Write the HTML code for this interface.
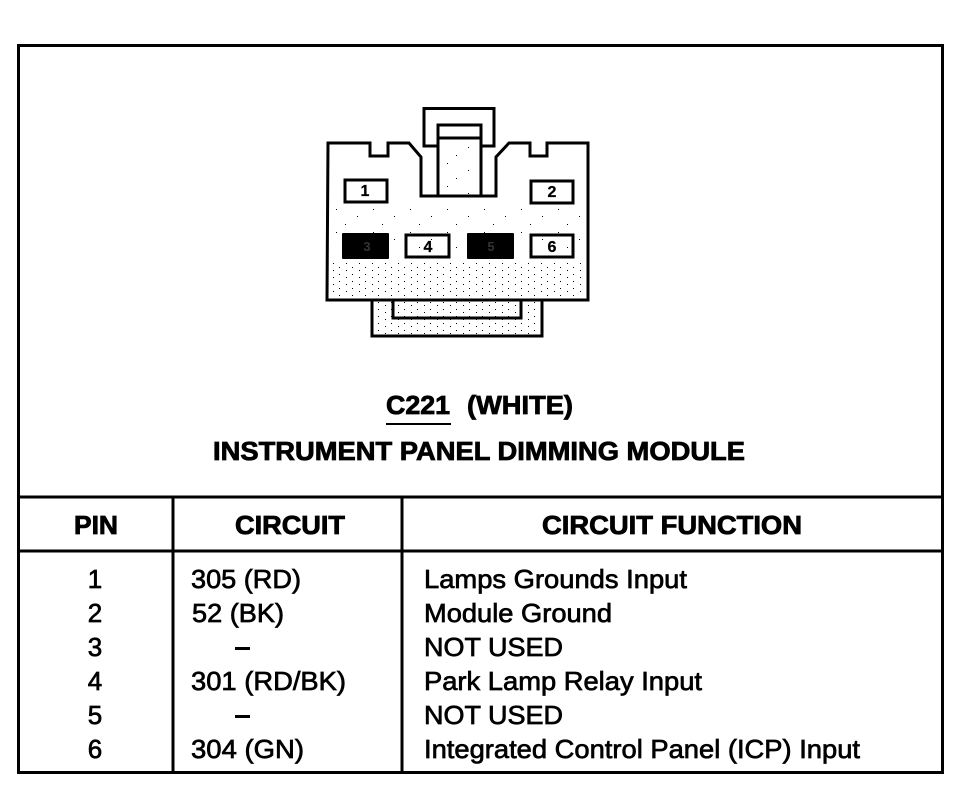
<!DOCTYPE html>
<html>
<head>
<meta charset="utf-8">
<style>
html,body{margin:0;padding:0;background:#fff;}
svg{display:block;}
text{font-family:"Liberation Sans",sans-serif;fill:#000;}
.b{font-weight:bold;font-size:26px;stroke:#000;stroke-width:.8px;}
.r{font-size:26px;stroke:#000;stroke-width:.7px;}
.p{font-weight:bold;font-size:16px;stroke:#000;stroke-width:.3px;}
</style>
</head>
<body>
<svg width="980" height="800" viewBox="0 0 980 800" xmlns="http://www.w3.org/2000/svg">
<defs>
<pattern id="d1" width="37" height="23" patternUnits="userSpaceOnUse">
<rect x="3" y="2" width="1" height="1" fill="#000"/><rect x="24" y="9" width="1" height="1" fill="#000"/><rect x="12" y="17" width="1" height="1" fill="#000"/>
</pattern>
<pattern id="d2" width="13" height="7" patternUnits="userSpaceOnUse">
<rect x="1" y="1" width="1" height="1" fill="#000"/><rect x="8" y="4" width="1" height="1" fill="#000"/>
</pattern>
</defs>
<rect width="980" height="800" fill="#fff"/>

<!-- Frame -->
<g fill="none" stroke="#000" stroke-width="3">
<rect x="18.5" y="45.5" width="924" height="727"/>
<path d="M18 497H943M18 551H943"/>
<path d="M173 497V773M402 497V773"/>
</g>

<!-- Connector stipple -->
<rect x="330" y="205" width="256" height="50" fill="url(#d1)"/>
<rect x="332" y="262" width="254" height="36" fill="url(#d2)"/>
<rect x="375" y="302" width="164" height="33" fill="url(#d2)"/>
<rect x="441" y="142" width="37" height="52" fill="url(#d1)"/>

<g fill="none" stroke="#000" stroke-width="3" stroke-linejoin="miter">
<path d="M328 143H370V156H388V143H409L421 157V196H496V157L509 143H530V156H547V143H588V300H327Z"/>
<path d="M372 301V336H542V301"/>
<path d="M393 301V318H521V301"/>
<path d="M438 146H424V108.500H494V146H481"/>
<path d="M438 196V125H481V196"/>
<path d="M438 138H481"/>
<rect x="345" y="180" width="42" height="22"/>
<rect x="531" y="181" width="42" height="22"/>
<rect x="406" y="235" width="43" height="22"/>
<rect x="531" y="235" width="42" height="22"/>
</g>
<rect x="342" y="233" width="47" height="26" rx="1" fill="#000"/>
<rect x="467" y="233" width="47" height="26" rx="1" fill="#000"/>
<text class="p" x="365" y="196" text-anchor="middle">1</text>
<text class="p" x="552" y="197" text-anchor="middle">2</text>
<text class="p" x="428" y="252" text-anchor="middle">4</text>
<text class="p" x="552" y="252" text-anchor="middle">6</text>
<text x="367" y="251" text-anchor="middle" font-size="13" style="fill:#333;font-weight:bold">3</text>
<text x="491" y="251" text-anchor="middle" font-size="13" style="fill:#333;font-weight:bold">5</text>

<!-- Titles -->
<text class="b" x="386" y="414" textLength="64" lengthAdjust="spacingAndGlyphs">C221</text>
<rect x="386" y="423" width="65" height="2" fill="#000"/>
<text class="b" x="467" y="414" textLength="106" lengthAdjust="spacingAndGlyphs">(WHITE)</text>
<text class="b" x="213" y="460" textLength="532" lengthAdjust="spacingAndGlyphs">INSTRUMENT PANEL DIMMING MODULE</text>

<!-- Header -->
<text class="b" x="74" y="534" textLength="44" lengthAdjust="spacingAndGlyphs">PIN</text>
<text class="b" x="235" y="534" textLength="110" lengthAdjust="spacingAndGlyphs">CIRCUIT</text>
<text class="b" x="542" y="534" textLength="260" lengthAdjust="spacingAndGlyphs">CIRCUIT FUNCTION</text>

<!-- Pins -->
<g text-anchor="middle">
<text class="r" x="95" y="588">1</text>
<text class="r" x="95" y="622">2</text>
<text class="r" x="95" y="656">3</text>
<text class="r" x="95" y="690">4</text>
<text class="r" x="95" y="724">5</text>
<text class="r" x="95" y="758">6</text>
</g>

<!-- Circuits -->
<text class="r" x="191" y="588" textLength="110" lengthAdjust="spacingAndGlyphs">305 (RD)</text>
<text class="r" x="192" y="622" textLength="92" lengthAdjust="spacingAndGlyphs">52 (BK)</text>
<rect x="235" y="647" width="15" height="3" fill="#000"/>
<text class="r" x="191" y="690" textLength="155" lengthAdjust="spacingAndGlyphs">301 (RD/BK)</text>
<rect x="235" y="715" width="15" height="3" fill="#000"/>
<text class="r" x="191" y="758" textLength="113" lengthAdjust="spacingAndGlyphs">304 (GN)</text>

<!-- Functions -->
<text class="r" x="424" y="588" textLength="263" lengthAdjust="spacingAndGlyphs">Lamps Grounds Input</text>
<text class="r" x="424" y="622" textLength="188" lengthAdjust="spacingAndGlyphs">Module Ground</text>
<text class="r" x="424" y="656" textLength="139" lengthAdjust="spacingAndGlyphs">NOT USED</text>
<text class="r" x="424" y="690" textLength="278" lengthAdjust="spacingAndGlyphs">Park Lamp Relay Input</text>
<text class="r" x="424" y="724" textLength="139" lengthAdjust="spacingAndGlyphs">NOT USED</text>
<text class="r" x="424" y="758" textLength="436" lengthAdjust="spacingAndGlyphs">Integrated Control Panel (ICP) Input</text>
</svg>
</body>
</html>
